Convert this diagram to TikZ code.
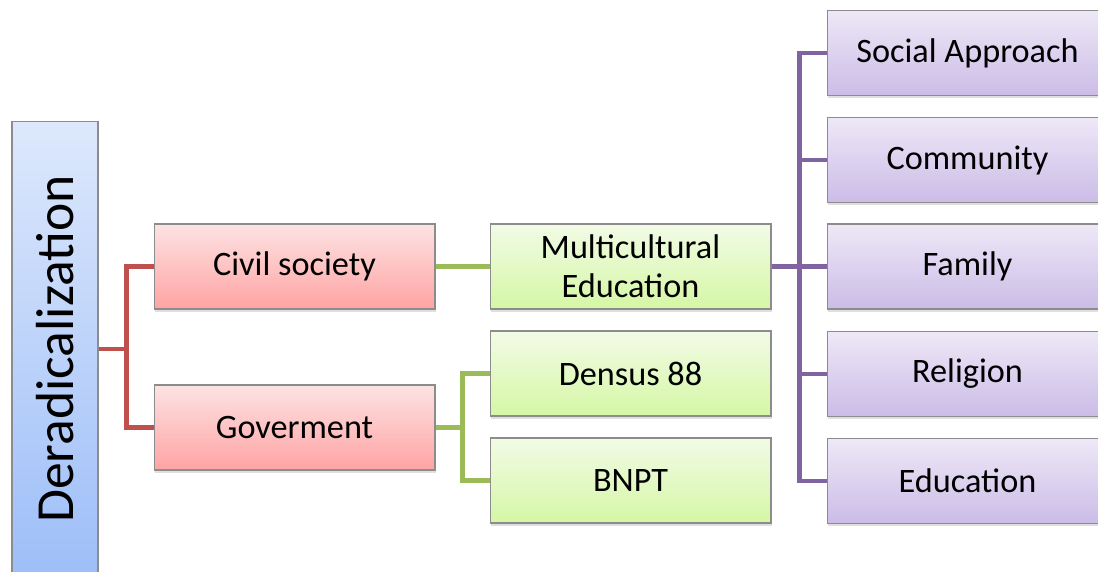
\documentclass[tikz,border=0pt]{standalone}
\usepackage{fontspec}
\setmainfont{Carlito}
\usetikzlibrary{shadows}

\definecolor{derTop}{HTML}{DDE8FC}
\definecolor{derBot}{HTML}{9DBEF8}
\definecolor{redTop}{HTML}{FDE3E3}
\definecolor{redBot}{HTML}{FFA3A3}
\definecolor{grnTop}{HTML}{F2FBE6}
\definecolor{grnBot}{HTML}{D5F7A5}
\definecolor{purTop}{HTML}{EEE8F7}
\definecolor{purBot}{HTML}{CBBCE7}
\definecolor{redLine}{HTML}{C0504D}
\definecolor{grnLine}{HTML}{9BBB59}
\definecolor{purLine}{HTML}{8064A2}
\definecolor{boxEdge}{HTML}{8C8C8C}

\tikzset{
  box/.style={draw=boxEdge, line width=0.6pt, minimum width=5.62cm, minimum height=1.7cm,
    align=center, font=\fontsize{19.5}{22}\selectfont,
    drop shadow={opacity=0.25, shadow xshift=0.6pt, shadow yshift=-1.6pt}},
  redbox/.style={box, top color=redTop, bottom color=redBot},
  grnbox/.style={box, top color=grnTop, bottom color=grnBot},
  purbox/.style={box, top color=purTop, bottom color=purBot},
  link/.style={line width=2.4pt}
}

\begin{document}
\begin{tikzpicture}[x=0.02cm, y=-0.02cm]
\clip (0,0) rectangle (1098,571);

% root
\node[box, top color=derTop, bottom color=derBot, minimum width=1.72cm, minimum height=9.1cm,
  font=\fontsize{30.5}{36}\selectfont] (derad) at (55,349) {\rotatebox{90}{Deradicalization}};

% second level
\node[redbox] (civil) at (294.5,266.5) {Civil society};
\node[redbox] (gov) at (294.5,427.5) {Goverment};

% third level
\node[grnbox] (multi) at (630.5,266.5) {Multicultural\\Education};
\node[grnbox] (densus) at (630.5,373.5) {Densus 88};
\node[grnbox] (bnpt) at (630.5,480.5) {BNPT};

% fourth level
\node[purbox] (social) at (967.5,53) {Social Approach};
\node[purbox] (comm) at (967.5,160) {Community};
\node[purbox] (family) at (967.5,266.5) {Family};
\node[purbox] (relig) at (967.5,374) {Religion};
\node[purbox] (educ) at (967.5,481) {Education};

% connectors
\draw[link, redLine] (derad.east) -- ++(28,0) |- (civil.west);
\draw[link, redLine] (derad.east) -- ++(28,0) |- (gov.west);
\draw[link, grnLine] (civil.east) -- (multi.west);
\draw[link, grnLine] (gov.east) -- ++(27,0) |- (densus.west);
\draw[link, grnLine] (gov.east) -- ++(27,0) |- (bnpt.west);
\foreach \n in {social,comm,family,relig,educ}
  \draw[link, purLine] (multi.east) -- ++(28,0) |- (\n.west);

\end{tikzpicture}
\end{document}
